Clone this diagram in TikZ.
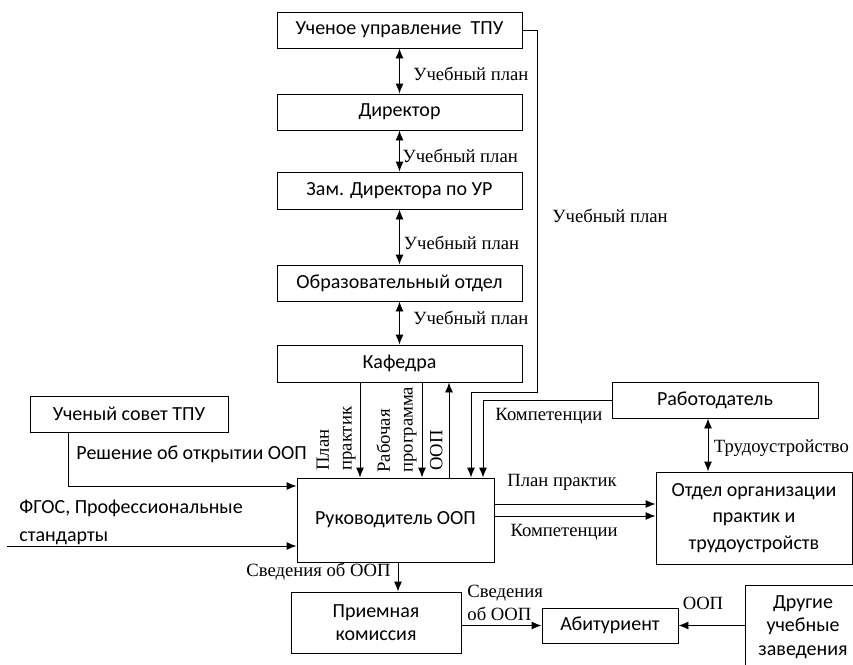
\documentclass[tikz,border=0pt]{standalone}
\usepackage{fontspec}
\setmainfont{Liberation Serif}
\setsansfont{Carlito}
\usetikzlibrary{positioning,calc,arrows.meta}
\newdimen\unitpx \unitpx=0.75pt

\begin{document}
\begin{tikzpicture}[x=0.75pt, y=-0.75pt, >={Latex[length=7.5pt,width=6pt]}, line width=0.7pt,
    block/.style={draw, rectangle, inner sep=0pt, align=center, font=\sffamily\fontsize{15}{17.5}\selectfont},
    lbl/.style={inner sep=0pt, font=\fontsize{14}{17}\selectfont},
    slbl/.style={inner sep=0pt, align=left, font=\sffamily\fontsize{15}{17.5}\selectfont}]
    \clip (0,0) rectangle (853,664);

    % Vertical chain
    \node [block, minimum width=245\unitpx, minimum height=36\unitpx] (uprav) at (399.5,30) {Ученое управление\ \ ТПУ};
    \node [block, minimum width=245\unitpx, minimum height=36\unitpx] (direktor) at (399.5,112) {Директор};
    \node [block, minimum width=245\unitpx, minimum height=37\unitpx] (zam) at (399.5,190.5) {Зам. Директора по УР};
    \node [block, minimum width=245\unitpx, minimum height=36\unitpx] (obrotd) at (399.5,283) {Образовательный отдел};
    \node [block, minimum width=245\unitpx, minimum height=37\unitpx] (kafedra) at (399.5,363.5) {Кафедра};

    \draw [<->] (uprav) -- (direktor) node [lbl, anchor=west, xshift=10pt, pos=0.57] {Учебный план};
    \draw [<->] (direktor) -- (zam) node [lbl, anchor=west, xshift=2pt, pos=0.62] {Учебный план};
    \draw [<->] (zam) -- (obrotd) node [lbl, anchor=west, xshift=3pt, pos=0.61] {Учебный план};
    \draw [<->] (obrotd) -- (kafedra) node [lbl, anchor=west, xshift=10pt, pos=0.39] {Учебный план};

    % Main blocks
    \node [block, minimum width=198\unitpx, minimum height=36\unitpx] (sovet) at (129,414) {Ученый совет ТПУ};
    \node [block, minimum width=197\unitpx, minimum height=84\unitpx] (rukovod) at (395.5,520) {Руководитель ООП};
    \node [block, minimum width=206\unitpx, minimum height=36\unitpx] (rabotod) at (715,400) {Работодатель};
    \node [block, minimum width=196\unitpx, minimum height=92\unitpx] (otdel) at (754,518)
        {Отдел организации\\[2.5pt] практик и\\[2.5pt] трудоустройств};
    \node [block, minimum width=170\unitpx, minimum height=61\unitpx] (priem) at (376,622.5) {Приемная\\ комиссия};
    \node [block, minimum width=136\unitpx, minimum height=35\unitpx] (abitur) at (610,625.5) {Абитуриент};
    \node [block, minimum width=116\unitpx, minimum height=84\unitpx] (drugie) at (803,627)
        {Другие\\ учебные\\ заведения};

    % Uchebny plan bypass
    \coordinate (ur) at (537,392);
    \draw [->] (uprav.east) -| (ur) -| ($(rukovod.north)+(75.5,0)$);
    \node [lbl, anchor=west] at (552,216) {Учебный план};

    % Kompetentsii from employer
    \draw [->] (rabotod.west) -| ($(rukovod.north)+(87.5,0)$);
    \node [lbl, anchor=west] at (495,416) {Компетенции};

    % Kafedra <-> Rukovoditel
    \coordinate (k1) at ($(kafedra.south)+(-39.5,0)$);
    \coordinate (k2) at ($(kafedra.south)+(22.5,0)$);
    \coordinate (k3) at ($(kafedra.south)+(49.5,0)$);
    \draw [->] (k1) -- (k1 |- rukovod.north);
    \draw [->] (k2) -- (k2 |- rukovod.north);
    \draw [<-] (k3) -- (k3 |- rukovod.north);
    \node [lbl, align=left, rotate=90, anchor=south west] at (356,471) {План\\практик};
    \node [lbl, align=left, rotate=90, anchor=south west] at (417,473) {Рабочая\\программа};
    \node [lbl, rotate=90, anchor=south west] at (443,471) {ООП};

    % Inputs from the left
    \coordinate (s1) at ($(sovet.south)+(-61,0)$);
    \draw [->] (s1) |- ($(rukovod.west)+(0,-34)$);
    \node [slbl, anchor=west] at (76,454) {Решение об открытии ООП};
    \coordinate (fgos) at (7,546);
    \draw [->] (fgos) -- (fgos -| rukovod.west);
    \node [slbl, anchor=west] at (19,522) {ФГОС, Профессиональные\\[3.5pt] стандарты};

    % Rukovoditel -> Otdel
    \coordinate (p1) at ($(rukovod.east)+(0,-16)$);
    \coordinate (p2) at ($(rukovod.east)+(0,-4)$);
    \draw [->] (p1) -- (p1 -| otdel.west);
    \draw [->] (p2) -- (p2 -| otdel.west);
    \node [lbl] at (562,482) {План практик};
    \node [lbl] at (564,532) {Компетенции};

    % Rabotodatel <-> Otdel
    \coordinate (t1) at ($(rabotod.south)+(-7,0)$);
    \draw [<->] (t1) -- (t1 |- otdel.north) node [lbl, anchor=west, xshift=4pt, pos=0.55] {Трудоустройство};

    % Bottom row
    \coordinate (r1) at ($(rukovod.south)+(2.5,0)$);
    \draw [->] (r1) -- (r1 |- priem.north);
    \node [lbl, anchor=east] at (391,572) {Сведения об ООП};
    \draw [->] (abitur.west -| priem.east) -- (abitur.west);
    \node [lbl, align=left, anchor=west] at (467,603) {Сведения\\об ООП};
    \draw [->] (drugie.west |- abitur.east) -- (abitur.east);
    \node [lbl] at (703,603) {ООП};
\end{tikzpicture}
\end{document}
